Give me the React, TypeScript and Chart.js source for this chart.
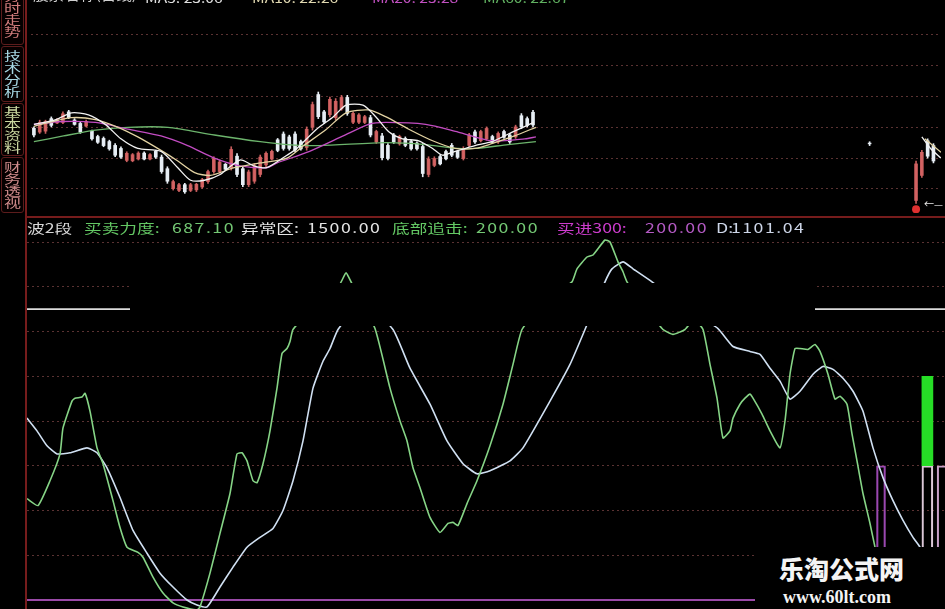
import React, { useEffect, useRef } from "react";
import { Chart, registerables } from "chart.js";

Chart.register(...registerables);

// ---------------- upper panel: daily K-line (price units) ----------------
const candleOpen = [13.55,13.35,13.40,14.05,13.82,13.85,14.40,13.98,13.80,13.66,13.40,13.12,13.02,12.86,12.66,12.50,11.88,11.86,11.95,12.26,11.95,12.35,12.05,11.45,10.42,10.32,10.62,10.32,10.35,10.50,10.78,11.30,11.30,11.68,11.50,12.10,11.45,10.62,10.80,11.15,11.65,11.95,12.95,13.25,13.10,13.25,12.86,12.55,13.60,15.30,14.40,14.25,14.10,14.55,15.15,13.86,13.86,13.85,14.10,12.84,13.15,12.66,13.20,12.74,13.02,12.86,12.78,12.60,11.15,11.62,12.08,12.34,12.66,12.35,11.98,12.66,13.36,12.90,13.00,13.12,12.84,13.38,13.20,13.10,14.20,14.05,14.38];
const candleHigh = [13.62,13.97,13.97,14.14,14.05,14.40,14.48,14.05,13.88,13.97,13.45,13.19,13.10,12.93,12.76,12.59,12.33,12.24,12.33,12.33,12.24,12.41,12.16,11.55,10.86,10.69,10.69,10.69,10.69,10.95,11.38,12.07,11.90,11.72,12.59,12.24,11.55,11.38,11.72,12.16,12.33,12.41,13.02,13.36,13.19,13.36,12.93,13.62,14.91,15.43,14.48,15.17,15.09,15.26,15.26,14.40,14.31,14.22,14.22,13.45,13.28,12.76,13.28,13.19,13.10,12.93,12.84,12.76,12.07,12.07,12.16,12.41,12.76,12.41,12.59,13.28,13.45,13.45,13.62,13.19,13.36,13.45,13.28,13.71,14.31,14.14,14.48];
const candleLow = [13.10,13.28,13.28,13.62,13.79,13.79,14.05,13.71,13.28,13.62,12.93,12.76,12.59,12.41,12.07,11.98,11.81,11.81,11.90,11.90,11.90,11.98,11.21,10.69,10.34,10.26,10.17,10.26,10.26,10.43,10.69,11.21,11.21,11.38,11.38,11.03,10.52,10.52,10.69,11.03,11.55,11.90,12.33,12.41,12.41,12.33,12.41,12.41,13.45,14.05,13.79,14.14,13.97,14.48,14.22,13.79,13.79,13.79,13.10,12.76,11.90,11.90,12.76,12.67,12.59,12.41,12.41,11.03,11.03,11.55,11.64,11.90,12.07,11.98,11.90,12.59,12.76,12.84,12.93,12.76,12.76,13.02,12.76,13.02,13.53,13.62,13.62];
const candleClose = [13.20,13.85,13.90,13.70,14.00,14.30,14.10,13.75,13.35,13.90,13.00,12.82,12.65,12.48,12.15,12.05,12.25,12.18,12.26,11.95,12.18,12.05,11.30,10.80,10.78,10.62,10.25,10.62,10.64,10.88,11.30,11.98,11.80,11.42,12.45,11.15,10.62,11.28,11.60,12.05,12.25,12.35,12.40,12.50,12.50,12.42,12.48,13.50,14.78,14.15,13.88,15.05,14.95,15.15,14.32,14.32,14.24,14.15,13.20,13.38,12.02,11.98,12.84,13.12,12.66,12.48,12.48,11.20,11.95,11.98,11.70,11.96,12.15,12.04,12.50,13.20,12.84,13.38,13.54,12.82,13.28,13.08,12.84,13.62,13.62,13.70,13.72];

const tailSlots = [144, 152, 153, 154, 155];
const tailOpen = [12.78, 9.80, 11.10, 12.90, 12.65];
const tailHigh = [12.85, 11.85, 12.40, 13.00, 12.75];
const tailLow = [12.65, 9.65, 11.00, 12.00, 11.75];
const tailClose = [12.74, 11.70, 12.30, 12.10, 11.85];

const ma5Slots = [0,3.8,6.5,9.4,12.3,15.0,17.9,21.9,24.8,27.0,29.4,32.1,35.5,37.9,40.1,43.6,45.3,48.7,51.6,53.8,56.7,58.9,61.2,63.5,66.3,68.7,70.4,72.6,76.0,78.9,82.8,86.1,120,153,154.5,156.3];
const ma5Values = [13.75,14.0,14.35,14.25,13.75,13.0,12.5,12.35,11.5,10.85,10.85,11.15,11.9,11.6,11.5,12.15,12.5,13.5,14.15,14.75,14.75,14.15,13.35,13.0,12.9,12.5,12.15,12.35,12.65,12.85,13.4,13.85,null,13.1,12.5,12.0];
const ma10Slots = [0,2.6,6.5,10.6,14.5,17.9,21.9,24.8,27.7,30.4,34.5,39.0,43.6,46.5,50.4,53.8,57.7,60.6,64.6,68.7,72.6,76.0,78.9,82.8,86.5,120,153.5,156.3];
const ma10Values = [13.65,13.85,14.1,14.0,13.6,13.1,12.4,11.85,11.25,11.1,11.5,11.75,12.0,12.65,13.5,14.35,14.5,14.15,13.5,12.9,12.5,12.5,12.75,13.15,13.6,null,13.0,12.3];
const ma20Slots = [0,4.8,10.6,16.2,21.9,26.5,31.1,35.5,40.1,41.9,47.5,53.3,57.7,60.6,67.5,73.1,78.9,84.6,86.5];
const ma20Values = [13.75,13.9,13.85,13.5,13.15,12.65,12.0,11.6,11.5,11.75,12.35,13.15,13.75,13.85,13.75,13.35,12.9,13.0,13.1];
const ma60Slots = [0,5.1,10.6,16.2,23.1,31.1,39.0,43.6,49.2,60.6,67.5,73.1,76.0,81.7,86.5];
const ma60Values = [12.85,13.15,13.45,13.6,13.6,13.2,12.85,12.7,12.65,12.8,12.7,12.5,12.5,12.7,12.85];

const lowMarkSlot = [152];
const lowMarkValue = [9.35];
const topGridTicks = [10.4, 12.0, 13.6, 15.2, 16.8, 18.4];

// ---------------- lower panel: 波2段 indicator ----------------
const forceSlots = [0,2.75,5.75,8.25,9,11.25,12,13.75,14.5,15.75,17.5,19,21.5,23.25,25,27.75,29,31.5,34,36.5,39,42.5,43.25,45.75,48.25,50.75,52.5,53.75,55,56.5,57.5,59,60.75,62.5,63.75,65,65.75,66.5,72.75,78.25,79.75,81.25,87,90.75,93.25,95,96.5,98.25,100.75,103.25,105.25,106.5,107.75,110,112.5,115.75,119,121.5,123.75,129.5,136.25,137.5,140,141.5,144.5,145.75,147.75,149,150,154.5,159,161.5,164.5,166.75,169,170.75,172.5,174,175.75,176.5,178.25,179.5,180.75,181.5,183.75,185.75,188.25,189.5,190.75,192,193.25,195.25,197,198.25,200.25,202,203.25,205,206.25,207.5,209,210.75,212,214.5];
const forceValues = [653,622,733,853,969,1089,1102,1107,1124,1044,880,809,644,524,436,413,391,302,231,187,169,156,169,320,498,676,853,858,822,733,724,809,956,1147,1302,1324,1355,1409,1533,1613,1662,1613,1413,1147,1000,911,791,702,569,502,542,547,533,631,733,889,1075,1253,1409,1533,1622,1680,1733,1742,1809,1800,1711,1667,1622,1511,1409,1387,1409,1453,1409,1253,1102,924,956,1013,1075,1102,1120,1102,1031,956,880,1000,1209,1324,1324,1320,1342,1311,1209,1098,1111,1075,942,822,676,542,436,244];
const dSlots = [0,2.5,5,7.5,10.75,15,17.5,20,23.25,26.5,30,33.25,36.5,40,42.5,45,48.25,51.5,55,58.25,61.5,64,66.5,69,71.5,74,75.75,77.75,83.75,91.5,95.75,100.75,105,109,112.5,115.75,120.75,124,130.75,135.75,139.5,144.5,146.25,149,151.5,156.25,164.5,172.75,176.5,180.75,183.25,185.75,188.25,190.75,193.25,196.5,199,201.5,204,206.5,209,211.5,214,216.5,219,221.5,223.25,227];
const dValues = [1013,956,889,853,858,880,858,791,658,511,409,320,258,200,178,169,258,347,436,480,520,600,733,911,1147,1267,1324,1409,1533,1409,1236,1075,911,809,764,778,822,880,1089,1253,1409,1622,1680,1711,1680,1622,1511,1413,1333,1311,1298,1236,1178,1098,1133,1209,1244,1231,1191,1133,1044,880,747,644,556,480,436,311];

const abnormalLevel = 1500; // 异常区
const bottomLevel = 200; // 底部追击 / 买进300
const buy300Slots = [213.5];
const buy300Ranges = [[200, 800]];
const signalSlots = [225.1];
const signalRanges = [[800, 1200]];
const baseSlots = [225.1];
const baseRanges = [[200, 800]];
const edgeSlots = [228.9];
const edgeRanges = [[200, 800]];
const lowGridTicks = [400, 600, 800, 1000, 1200, 1400, 1600, 1800];

const legendItems = [
  { text: "波2段", x: 27, color: "#d6d6d6", num: false },
  { text: "买卖力度:", x: 84, color: "#64c864", num: false },
  { text: "687.10", x: 172, color: "#74c874", num: true },
  { text: "异常区:", x: 241, color: "#e4e4e4", num: false },
  { text: "1500.00", x: 307, color: "#e4e4e4", num: true },
  { text: "底部追击:", x: 392, color: "#64c864", num: false },
  { text: "200.00", x: 476, color: "#74c874", num: true },
  { text: "买进300:", x: 557, color: "#cc3ccc", num: false },
  { text: "200.00", x: 645, color: "#b45ac4", num: true },
  { text: "D:", x: 716, color: "#cdd6e8", num: false },
  { text: "1101.04", x: 731, color: "#cdd6e8", num: true },
];

const headerItems = [
  { text: "股票名称(日线)", x: 33, color: "#d0d0d0" },
  { text: "MA5: 23.06", x: 145, color: "#e0e0e0" },
  { text: "MA10: 22.26", x: 252, color: "#e0d8b0" },
  { text: "MA20: 23.28", x: 372, color: "#c050c0" },
  { text: "MA60: 22.67", x: 483, color: "#60b060" },
];

const tabs = [
  { text: "分时走势", top: -12, h: 55, pad: 1, color: "#d07c7c" },
  { text: "技术分析", top: 46, h: 54, pad: 3, color: "#a6d6e2" },
  { text: "基本资料", top: 103, h: 51, pad: 2, color: "#cad6a0" },
  { text: "财务透视", top: 157, h: 54, pad: 3, color: "#d08c8c" },
];

const UP = "rgba(214,100,100,0.92)";
const DOWN = "#e6edf4";
const GRID = "#5a3232";

const pts = (xs: number[], ys: (number | null)[]) => xs.map((x, i) => ({ x, y: ys[i] }));

function topConfig(): any {
  const slots = candleOpen.map((_, i) => i).concat(tailSlots);
  const open = candleOpen.concat(tailOpen);
  const high = candleHigh.concat(tailHigh);
  const low = candleLow.concat(tailLow);
  const close = candleClose.concat(tailClose);
  const colors = open.map((o, i) => (close[i] >= o ? UP : DOWN));
  const line = (label: string, data: any[], color: string, order: number) => ({
    type: "line", label, data, borderColor: color, borderWidth: 1.3, pointRadius: 0,
    spanGaps: false, tension: 0.25, order,
  });
  return {
    type: "bar",
    data: {
      datasets: [
        line("MA5", pts(ma5Slots, ma5Values), "#f2f2f2", 0),
        line("MA10", pts(ma10Slots, ma10Values), "#e2d2a2", 1),
        line("MA20", pts(ma20Slots, ma20Values), "#c24cc2", 2),
        line("MA60", pts(ma60Slots, ma60Values), "#6cb46c", 3),
        {
          type: "scatter", data: pts(lowMarkSlot, lowMarkValue), pointRadius: 4,
          backgroundColor: "#e03030", borderWidth: 0, order: 4,
        },
        {
          type: "bar", data: slots.map((x, i) => ({ x, y: [Math.min(open[i], close[i]), Math.max(open[i], close[i])] })),
          backgroundColor: colors, barThickness: 3, grouped: false, borderWidth: 0, order: 5,
        },
        {
          type: "bar", data: slots.map((x, i) => ({ x, y: [low[i], high[i]] })),
          backgroundColor: colors, barThickness: 1, grouped: false, borderWidth: 0, order: 6,
        },
      ],
    },
    options: {
      responsive: false, animation: false, devicePixelRatio: 1,
      layout: { padding: 0 },
      plugins: { legend: { display: false }, tooltip: { enabled: false } },
      scales: {
        x: { type: "linear", min: -0.5, max: 156.3, offset: false, display: false },
        y: {
          type: "linear", min: 9.15, max: 20,
          ticks: { display: false },
          grid: { color: GRID, drawTicks: false, lineWidth: 1 },
          border: { display: false, dash: [2, 3] },
          afterBuildTicks: (a: any) => { a.ticks = topGridTicks.map((v) => ({ value: v })); },
        },
      },
    },
  };
}

function bottomConfig(): any {
  const level = (v: number, color: string, w: number, order: number) => ({
    type: "line", data: [{ x: 0, y: v }, { x: 229.5, y: v }], borderColor: color,
    borderWidth: w, pointRadius: 0, order,
  });
  const bars = (xs: number[], rs: number[][], fill: string, stroke: string, thick: number, order: number) => ({
    type: "bar", data: xs.map((x, i) => ({ x, y: rs[i] })), backgroundColor: fill,
    borderColor: stroke, borderWidth: fill === "transparent" ? 1.5 : 0, borderSkipped: false,
    barThickness: thick, grouped: false, order,
  });
  return {
    type: "line",
    data: {
      datasets: [
        {
          type: "line", label: "买卖力度", data: pts(forceSlots, forceValues), borderColor: "#86d486",
          borderWidth: 1.6, pointRadius: 0, tension: 0.15, order: 1,
        },
        {
          type: "line", label: "D", data: pts(dSlots, dValues), borderColor: "#d0e0f2",
          borderWidth: 1.6, pointRadius: 0, tension: 0.15, order: 2,
        },
        level(abnormalLevel, "#dcdcdc", 1.6, 3),
        level(bottomLevel, "#9a4aa8", 2, 4),
        bars(signalSlots, signalRanges, "#26de26", "#26de26", 11, 5),
        bars(baseSlots, baseRanges, "transparent", "#dcc8d8", 11, 6),
        bars(edgeSlots, edgeRanges, "transparent", "#c8a0c8", 11, 7),
        bars(buy300Slots, buy300Ranges, "transparent", "#9a48b0", 9, 8),
      ],
    },
    options: {
      responsive: false, animation: false, devicePixelRatio: 1,
      layout: { padding: 0 },
      plugins: { legend: { display: false }, tooltip: { enabled: false } },
      scales: {
        x: { type: "linear", min: 0, max: 229.5, offset: false, display: false },
        y: {
          type: "linear", min: 159.8, max: 1907.3,
          ticks: { display: false },
          grid: { color: GRID, drawTicks: false, lineWidth: 1 },
          border: { display: false, dash: [2, 3] },
          afterBuildTicks: (a: any) => { a.ticks = lowGridTicks.map((v) => ({ value: v })); },
        },
      },
    },
  };
}

const CJK = '"Noto Sans CJK SC", "Noto Sans", sans-serif';

export default function App() {
  const topRef = useRef<HTMLCanvasElement>(null);
  const botRef = useRef<HTMLCanvasElement>(null);

  useEffect(() => {
    const a = new Chart(topRef.current as HTMLCanvasElement, topConfig());
    const b = new Chart(botRef.current as HTMLCanvasElement, bottomConfig());
    return () => { a.destroy(); b.destroy(); };
  }, []);

  const abs = (s: any) => ({ position: "absolute", ...s }) as React.CSSProperties;

  return (
    <div style={{ position: "fixed", left: 0, top: 0, width: 945, height: 609, background: "#000", overflow: "hidden", fontFamily: CJK }}>
      <canvas ref={topRef} width={918} height={217} style={abs({ left: 27, top: 0, width: 918, height: 217 })} />
      <canvas ref={botRef} width={918} height={391} style={abs({ left: 27, top: 218, width: 918, height: 391 })} />

      {/* header line, mostly cut at the top edge */}
      {headerItems.map((h, i) => (
        <div key={i} style={abs({ left: h.x, top: i === 0 ? -12 : -9, fontSize: 13, lineHeight: "13px", color: h.color, whiteSpace: "nowrap", transform: "scaleX(1.2)", transformOrigin: "0 0" })}>{h.text}</div>
      ))}

      {/* side tabs */}
      {tabs.map((t, i) => (
        <div key={i} style={abs({ left: 1, top: t.top, width: 21, height: t.h, border: "1px solid #5c1c1c", borderRadius: 3, background: "#050000" })}>
          {t.text.split("").map((ch, j) => (
            <div key={j} style={abs({ left: 0, width: 21, top: t.pad + j * 12, fontSize: 12, lineHeight: "12px", color: t.color, textAlign: "center", transform: "scaleX(1.42)", transformOrigin: "50% 0" })}>{ch}</div>
          ))}
        </div>
      ))}

      {/* panel borders */}
      <div style={abs({ left: 25, top: 0, width: 2, height: 609, background: "#761c1c" })} />
      <div style={abs({ left: 26, top: 216, width: 919, height: 2, background: "#761c1c" })} />

      {/* low-price arrow label */}
      <div style={abs({ left: 924, top: 199, fontSize: 10, lineHeight: "10px", color: "#e8e8e8", whiteSpace: "nowrap" })}>←—</div>

      {/* indicator legend */}
      {legendItems.map((l, i) => (
        <div key={i} style={abs({ left: l.x, top: 221, fontSize: 13, lineHeight: "14px", color: l.color, whiteSpace: "nowrap", letterSpacing: l.num ? "1.1px" : "0px", transform: "scaleX(1.36)", transformOrigin: "0 0" })}>{l.text}</div>
      ))}

      {/* masked band */}
      <div style={abs({ left: 130, top: 283, width: 685, height: 43, background: "#000" })} />

      {/* watermark */}
      <div style={abs({ left: 755, top: 547, width: 190, height: 62, background: "#000" })}>
        <div style={abs({ left: 24, top: 9, fontSize: 25, lineHeight: "25px", fontWeight: 900, color: "#f4f4f4", whiteSpace: "nowrap", fontFamily: CJK })}>乐淘公式网</div>
        <div style={abs({ left: 28, top: 41, fontSize: 18, lineHeight: "18px", fontWeight: 700, color: "#f4f4f4", whiteSpace: "nowrap", fontFamily: '"Liberation Serif", serif' })}>www.60lt.com</div>
      </div>
    </div>
  );
}
